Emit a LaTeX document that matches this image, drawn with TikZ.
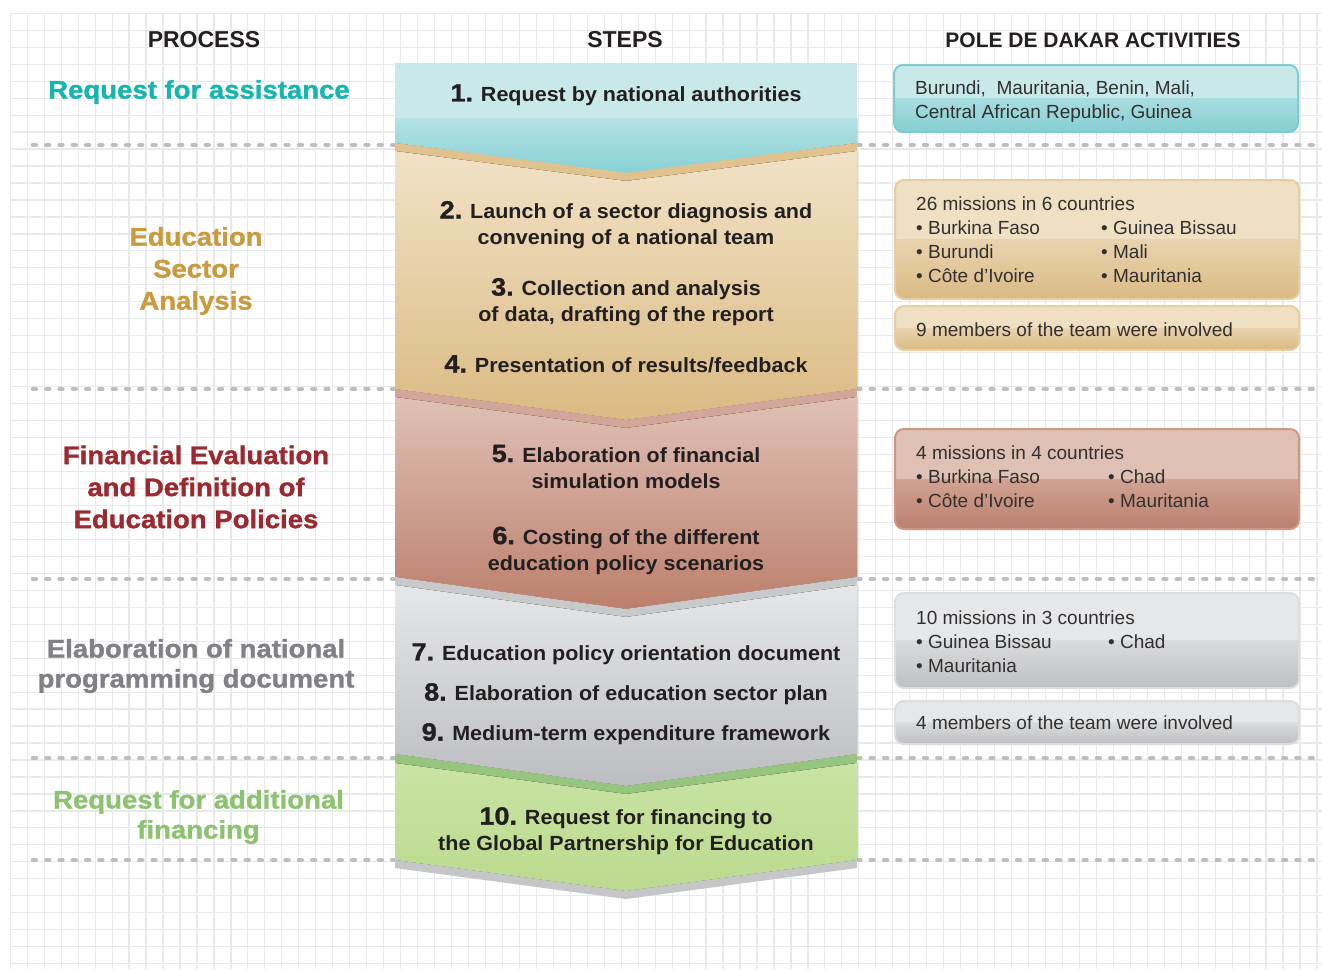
\documentclass[tikz,border=0pt]{standalone}
\usepackage{fontspec}
\setmainfont{Liberation Sans}
\newfontfamily\heavy[FakeStretch=1.08,FakeBold=1.2]{Liberation Sans}
\newfontfamily\stepf[FakeStretch=1.05]{Liberation Sans}
\definecolor{gridc}{RGB}{232,233,234}
\definecolor{dotc}{RGB}{188,190,192}
\definecolor{txt}{RGB}{35,31,32}
\definecolor{boxtxt}{RGB}{50,48,48}
% left label colours
\definecolor{cTeal}{RGB}{22,182,175}
\definecolor{cGold}{RGB}{201,154,62}
\definecolor{cRed}{RGB}{154,42,47}
\definecolor{cGray}{RGB}{128,129,132}
\definecolor{cGreen}{RGB}{141,195,112}
% band colours
\definecolor{tealA}{RGB}{201,232,233}
\definecolor{tealB}{RGB}{180,225,227}
\definecolor{tealC}{RGB}{134,208,212}
\definecolor{tanS}{RGB}{224,194,143}
\definecolor{tanA}{RGB}{241,226,198}
\definecolor{tanB}{RGB}{218,186,131}
\definecolor{pinkS}{RGB}{210,166,153}
\definecolor{pinkA}{RGB}{224,193,182}
\definecolor{pinkB}{RGB}{188,127,108}
\definecolor{grayS}{RGB}{200,201,203}
\definecolor{grayA}{RGB}{230,231,232}
\definecolor{grayM}{RGB}{222,223,224}
\definecolor{grayB}{RGB}{188,189,192}
\definecolor{greenS}{RGB}{151,196,127}
\definecolor{greenA}{RGB}{200,227,164}
\definecolor{greenB}{RGB}{188,218,142}
\definecolor{shadowc}{RGB}{197,198,200}
% box colours
\definecolor{bTealL}{RGB}{201,232,233}
\definecolor{bTealT}{RGB}{168,221,224}
\definecolor{bTealB}{RGB}{133,207,211}
\definecolor{bTealE}{RGB}{126,205,209}
\definecolor{bTanL}{RGB}{239,223,195}
\definecolor{bTanT}{RGB}{233,211,174}
\definecolor{bTanB}{RGB}{218,186,132}
\definecolor{bTanE}{RGB}{232,205,160}
\definecolor{bPinkL}{RGB}{223,192,181}
\definecolor{bPinkT}{RGB}{209,163,147}
\definecolor{bPinkB}{RGB}{187,127,109}
\definecolor{bPinkE}{RGB}{205,150,133}
\definecolor{bGrayL}{RGB}{230,231,232}
\definecolor{bGrayT}{RGB}{218,219,220}
\definecolor{bGrayB}{RGB}{190,191,194}
\definecolor{bGrayE}{RGB}{220,221,222}
\newcommand\pdabox[8]{%
  \begin{scope}
    \clip[rounded corners=9pt] (#1,#2) rectangle (#3,#4);
    \fill[#5] (#1,#2) rectangle (#3,#4);
    \fill[top color=#6,bottom color=#7] (#1,{(#2+#4)/2}) rectangle (#3,#4);
  \end{scope}
  \draw[#8,line width=2pt,rounded corners=9pt] (#1,#2) rectangle (#3,#4);}
\newcommand\numb[1]{{\heavy\bfseries\fontsize{25}{26}\selectfont #1}}
\tikzset{
  gridline/.style={draw=gridc,line width=1.2pt},
  dotline/.style={draw=dotc,line width=4.6pt,line cap=round,dash pattern=on 2.8pt off 10.5pt},
  hdr/.style={inner sep=0pt,text=txt,font=\bfseries\fontsize{23}{28}\selectfont},
  lbl/.style={inner sep=0pt,align=center,font=\heavy\bfseries\fontsize{25.5}{32}\selectfont},
  lbltwo/.style={inner sep=0pt,align=center,font=\heavy\bfseries\fontsize{25.5}{30}\selectfont},
  steptxt/.style={inner sep=0pt,align=center,text=txt,font=\stepf\bfseries\fontsize{20.5}{26}\selectfont},
  boxt/.style={inner sep=0pt,anchor=base west,text=boxtxt,font=\fontsize{19}{24}\selectfont}
}
\begin{document}
\begin{tikzpicture}[x=1pt,y=-1pt]
\useasboundingbox (0,0) rectangle (1322,969);
\fill[white] (0,0) rectangle (1322,969);
% grid
\foreach \i in {0,...,77} \draw[gridline] ({10.3+16.97*\i},13.3) -- ({10.3+16.97*\i},969);
\foreach \j in {0,...,56} \draw[gridline] (10.3,{13.3+16.97*\j}) -- (1322,{13.3+16.97*\j});
% dotted separators
\foreach \yy in {145,389,579,758,860} \draw[dotline] (33,\yy) -- (1322,\yy);
% headers
\node[hdr] (hProc) at (204,40) {PROCESS};
\node[hdr] (hSteps) at (625,40) {STEPS};
\node[hdr,font=\bfseries\fontsize{21}{28}\selectfont] (hPda) at (1093,40) {POLE DE DAKAR ACTIVITIES};
% ---- chevron column ----
% band 1 teal
\fill[tealA] (395,63) rectangle (857,118);
\fill[top color=tealB,bottom color=tealC] (395,118) -- (857,118) -- (857,143) -- (626,174) -- (395,143) -- cycle;
% band 2 tan
\fill[tanS] (395,143) -- (626,173) -- (857,143) -- (857,389) -- (626,420) -- (395,389) -- cycle;
\fill[top color=tanA,bottom color=tanB] (395,151) -- (626,181) -- (857,151) -- (857,389) -- (626,420) -- (395,389) -- cycle;
% band 3 pink
\fill[pinkS] (395,389) -- (626,420) -- (857,389) -- (857,577) -- (626,609) -- (395,577) -- cycle;
\fill[top color=pinkA,bottom color=pinkB] (395,397) -- (626,428) -- (857,397) -- (857,577) -- (626,609) -- (395,577) -- cycle;
% band 4 gray
\fill[grayS] (395,577) -- (626,609) -- (857,577) -- (857,754) -- (626,786) -- (395,754) -- cycle;
\fill[top color=grayA,middle color=grayM,bottom color=grayB] (395,585) -- (626,617) -- (857,585) -- (857,754) -- (626,786) -- (395,754) -- cycle;
% band 5 green
\fill[greenS] (395,754) -- (626,786) -- (857,754) -- (857,860) -- (626,891) -- (395,860) -- cycle;
\fill[top color=greenA,bottom color=greenB] (395,763) -- (626,794) -- (857,763) -- (857,860) -- (626,891) -- (395,860) -- cycle;
% shadow
\fill[shadowc] (395,860) -- (626,891) -- (857,860) -- (857,868) -- (626,899) -- (395,868) -- cycle;
% step texts
\node[steptxt] (s1) at (626,95) {\numb{1.} Request by national authorities};
\node[steptxt] (s2) at (626,225) {\numb{2.} Launch of a sector diagnosis and\\convening of a national team};
\node[steptxt] (s3) at (626,302) {\numb{3.} Collection and analysis\\of data, drafting of the report};
\node[steptxt] (s4) at (626,364) {\numb{4.} Presentation of results/feedback};
\node[steptxt] (s5) at (626,466.5) {\numb{5.} Elaboration of financial\\simulation models};
\node[steptxt] (s6) at (626,550.5) {\numb{6.} Costing of the different\\education policy scenarios};
\node[steptxt] (s7) at (626,654) {\numb{7.} Education policy orientation document};
\node[steptxt] (s8) at (626,694) {\numb{8.} Elaboration of education sector plan};
\node[steptxt] (s9) at (626,734) {\numb{9.} Medium-term expenditure framework};
\node[steptxt] (s10) at (626,831) {\numb{10.} Request for financing to\\the Global Partnership for Education};
% left process labels
\node[lbl,text=cTeal] (p1) at (199,92) {Request for assistance};
\node[lbl,text=cGold] (p2) at (196,271) {Education\\Sector\\Analysis};
\node[lbl,text=cRed] (p3) at (196,487) {Financial Evaluation\\and Definition of\\Education Policies};
\node[lbltwo,text=cGray] (p4) at (196,666) {Elaboration of national\\programming document};
\node[lbltwo,text=cGreen] (p5) at (198.5,817) {Request for additional\\financing};
% right activity boxes
\pdabox{894}{65}{1298}{132}{bTealL}{bTealT}{bTealB}{bTealE}
\node[boxt] (a1) at (915,94) {Burundi,\ \ Mauritania, Benin, Mali,};
\node[boxt] (a2) at (915,118) {Central African Republic, Guinea};
\pdabox{895}{180}{1299}{299}{bTanL}{bTanT}{bTanB}{bTanE}
\node[boxt] (b1) at (916,210) {26 missions in 6 countries};
\node[boxt] (b2) at (916,234) {• Burkina Faso};
\node[boxt] (b3) at (1101,234) {• Guinea Bissau};
\node[boxt] (b4) at (916,258) {• Burundi};
\node[boxt] (b5) at (1101,258) {• Mali};
\node[boxt] (b6) at (916,282) {• Côte d’Ivoire};
\node[boxt] (b7) at (1101,282) {• Mauritania};
\pdabox{895}{306}{1299}{350}{bTanL}{bTanT}{bTanB}{bTanE}
\node[boxt] (c1) at (916,336) {9 members of the team were involved};
\pdabox{895}{429}{1299}{529}{bPinkL}{bPinkT}{bPinkB}{bPinkE}
\node[boxt] (d1) at (916,459) {4 missions in 4 countries};
\node[boxt] (d2) at (916,483) {• Burkina Faso};
\node[boxt] (d3) at (1108,483) {• Chad};
\node[boxt] (d4) at (916,507) {• Côte d’Ivoire};
\node[boxt] (d5) at (1108,507) {• Mauritania};
\pdabox{895}{593}{1299}{688}{bGrayL}{bGrayT}{bGrayB}{bGrayE}
\node[boxt] (e1) at (916,624) {10 missions in 3 countries};
\node[boxt] (e2) at (916,648) {• Guinea Bissau};
\node[boxt] (e3) at (1108,648) {• Chad};
\node[boxt] (e4) at (916,672) {• Mauritania};
\pdabox{895}{701}{1299}{744}{bGrayL}{bGrayT}{bGrayB}{bGrayE}
\node[boxt] (f1) at (916,729) {4 members of the team were involved};
\end{tikzpicture}
\end{document}
